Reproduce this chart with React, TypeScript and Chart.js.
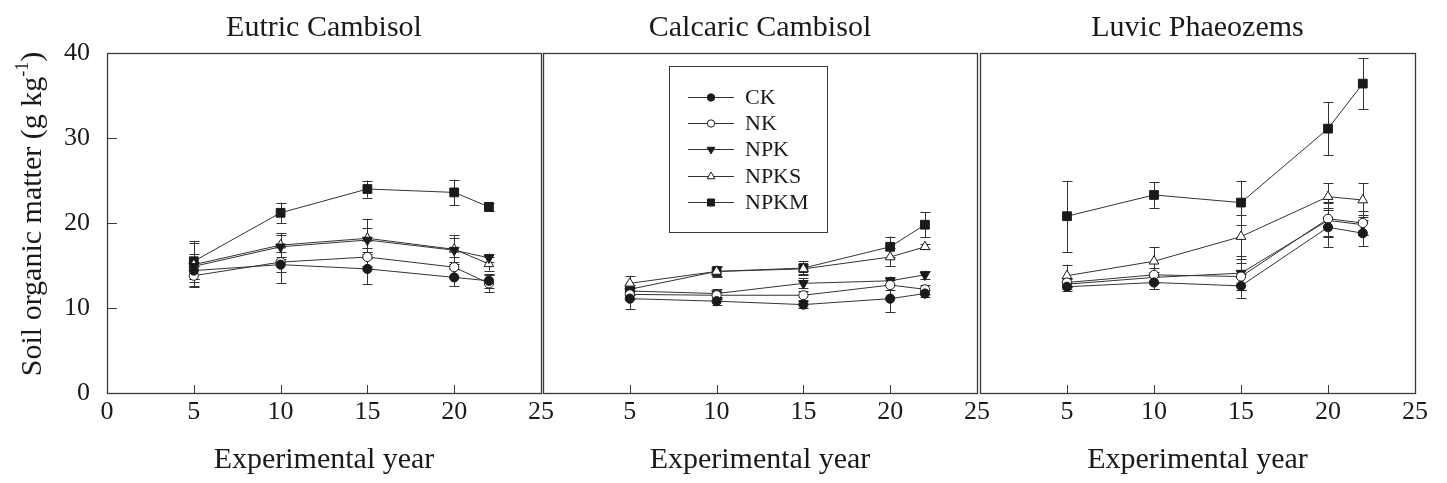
import React, { useEffect, useRef } from 'react';
import { Chart, registerables } from 'chart.js';

Chart.register(...registerables);

// ---------------- data ----------------
const YEARS = [5, 10, 15, 20, 22];
const SERIES = ['CK', 'NK', 'NPK', 'NPKS', 'NPKM'];
const PANEL_TITLES = ['Eutric Cambisol', 'Calcaric Cambisol', 'Luvic Phaeozems'];
const X_TICKS = [0, 5, 10, 15, 20, 25];
const Y_TICKS = [0, 10, 20, 30, 40];
const X_TITLE = 'Experimental year';
const Y_TITLE = 'Soil organic matter (g kg';
const Y_TITLE_SUP = '-1';

// rows follow SERIES order: CK, NK, NPK, NPKS, NPKM
const EUTRIC_MEAN = [
  [14.4, 15.1, 14.6, 13.6, 13.2],
  [13.8, 15.4, 16.0, 14.8, 12.9],
  [14.9, 17.2, 18.0, 16.8, 15.9],
  [15.1, 17.4, 18.2, 16.9, 15.2],
  [15.5, 21.2, 24.0, 23.6, 21.9],
];
const EUTRIC_ERR = [
  [1.0, 2.2, 1.8, 1.0, 0.8],
  [1.2, 1.2, 1.0, 1.2, 1.0],
  [1.5, 1.4, 1.4, 1.4, 0.5],
  [2.6, 1.4, 2.3, 1.7, 0.8],
  [2.4, 1.2, 1.0, 1.5, 0.5],
];
const CALCARIC_MEAN = [
  [11.1, 10.8, 10.4, 11.1, 11.7],
  [11.6, 11.5, 11.5, 12.7, 12.2],
  [12.0, 11.7, 12.9, 13.2, 13.9],
  [12.9, 14.3, 14.6, 16.0, 17.2],
  [12.2, 14.3, 14.7, 17.2, 19.8],
];
const CALCARIC_ERR = [
  [1.2, 0.5, 0.4, 1.6, 0.4],
  [0.5, 0.4, 0.5, 0.6, 0.5],
  [0.5, 0.5, 0.6, 0.5, 0.5],
  [0.9, 0.5, 0.6, 1.1, 0.3],
  [0.5, 0.7, 0.8, 1.2, 1.5],
];
const LUVIC_MEAN = [
  [12.5, 13.0, 12.6, 19.5, 18.8],
  [13.0, 13.9, 13.7, 20.5, 20.0],
  [12.8, 13.6, 14.1, 20.3, 19.8],
  [13.8, 15.5, 18.4, 23.1, 22.7],
  [20.8, 23.3, 22.4, 31.1, 36.4],
];
const LUVIC_ERR = [
  [0.5, 0.8, 1.4, 2.3, 1.5],
  [0.5, 0.8, 1.6, 2.0, 1.4],
  [0.6, 0.6, 2.0, 2.0, 1.2],
  [1.3, 1.7, 2.6, 1.6, 2.0],
  [4.2, 1.5, 2.6, 3.1, 3.0],
];

const PANEL_MEANS = [EUTRIC_MEAN, CALCARIC_MEAN, LUVIC_MEAN];
const PANEL_ERRS = [EUTRIC_ERR, CALCARIC_ERR, LUVIC_ERR];

// ---------------- styles ----------------
const W = 1447;
const H = 483;
const FONT = '"Liberation Serif", "Times New Roman", Times, serif';
const INK = '#1a1a1a';
const LINE = '#333333';
const PANEL_LEFT = [107, 543, 980];
const PANEL_RIGHT = [541, 977, 1415];
const PLOT_TOP = 53;
const X_AXIS_H = 90;
const Y_AXIS_W = 107;

const MARKERS = [
  { style: 'circle', fill: INK, rot: 0, r: 4.6 },
  { style: 'circle', fill: '#ffffff', rot: 0, r: 4.6 },
  { style: 'triangle', fill: INK, rot: 180, r: 5.6 },
  { style: 'triangle', fill: '#ffffff', rot: 0, r: 5.6 },
  { style: 'rect', fill: INK, rot: 0, r: 6.2 },
];

function drawMarker(ctx: CanvasRenderingContext2D, m: any, x: number, y: number, r: number) {
  ctx.save();
  ctx.fillStyle = m.fill;
  ctx.strokeStyle = INK;
  ctx.lineWidth = 1;
  ctx.beginPath();
  if (m.style === 'circle') {
    ctx.arc(x, y, r, 0, Math.PI * 2);
  } else if (m.style === 'rect') {
    const s = r * Math.SQRT1_2;
    ctx.rect(x - s, y - s, 2 * s, 2 * s);
  } else {
    const dir = m.rot === 180 ? -1 : 1;
    const h = r * 1.5;
    const hw = r * 0.866;
    ctx.moveTo(x, y - dir * r);
    ctx.lineTo(x - hw, y - dir * r + dir * h);
    ctx.lineTo(x + hw, y - dir * r + dir * h);
    ctx.closePath();
  }
  ctx.fill();
  ctx.stroke();
  ctx.restore();
}

function makeConfig(p: number): any {
  const means = PANEL_MEANS[p];
  const errs = PANEL_ERRS[p];
  const datasets = SERIES.map((name, s) => ({
    label: name,
    data: YEARS.map((yr, k) => ({ x: yr, y: means[s][k] })),
    borderColor: LINE,
    borderWidth: 1,
    pointStyle: MARKERS[s].style,
    pointRotation: MARKERS[s].rot,
    pointRadius: MARKERS[s].r,
    pointBackgroundColor: MARKERS[s].fill,
    pointBorderColor: INK,
    pointBorderWidth: 1,
    fill: false,
    tension: 0,
  }));

  const errorBars = {
    id: 'errorBars' + p,
    beforeDatasetsDraw(chart: any) {
      const ctx = chart.ctx;
      const xs = chart.scales.x;
      const ys = chart.scales.y;
      ctx.save();
      ctx.strokeStyle = LINE;
      ctx.lineWidth = 1;
      SERIES.forEach((_, s) => {
        YEARS.forEach((yr, k) => {
          const x = Math.round(xs.getPixelForValue(yr)) + 0.5;
          const yt = ys.getPixelForValue(means[s][k] + errs[s][k]);
          const yb = ys.getPixelForValue(means[s][k] - errs[s][k]);
          ctx.beginPath();
          ctx.moveTo(x, yt);
          ctx.lineTo(x, yb);
          ctx.moveTo(x - 5, Math.round(yt) + 0.5);
          ctx.lineTo(x + 5, Math.round(yt) + 0.5);
          ctx.moveTo(x - 5, Math.round(yb) + 0.5);
          ctx.lineTo(x + 5, Math.round(yb) + 0.5);
          ctx.stroke();
        });
      });
      ctx.restore();
    },
  };

  const frame = {
    id: 'frame' + p,
    afterDraw(chart: any) {
      const ctx = chart.ctx;
      const a = chart.chartArea;
      const xs = chart.scales.x;
      const ys = chart.scales.y;
      ctx.save();
      ctx.strokeStyle = '#3a3a3a';
      ctx.lineWidth = 1.3;
      ctx.strokeRect(Math.round(a.left) + 0.5, Math.round(a.top) + 0.5, Math.round(a.right - a.left), Math.round(a.bottom - a.top));
      ctx.lineWidth = 1;
      // inner x ticks
      X_TICKS.forEach((v) => {
        if (v === 0 || v === 25) return;
        const x = Math.round(xs.getPixelForValue(v)) + 0.5;
        ctx.beginPath();
        ctx.moveTo(x, a.bottom);
        ctx.lineTo(x, a.bottom - 8);
        ctx.stroke();
      });
      if (p === 0) {
        Y_TICKS.forEach((v) => {
          if (v === 0 || v === 40) return;
          const y = Math.round(ys.getPixelForValue(v)) + 0.5;
          ctx.beginPath();
          ctx.moveTo(a.left, y);
          ctx.lineTo(a.left + 10, y);
          ctx.stroke();
        });
      }
      // panel title
      ctx.fillStyle = INK;
      ctx.font = `30px ${FONT}`;
      ctx.textAlign = 'center';
      ctx.textBaseline = 'middle';
      ctx.fillText(PANEL_TITLES[p], (a.left + a.right) / 2, 28);

      if (p === 0) {
        // y axis title with superscript
        ctx.save();
        ctx.translate(33, (a.top + a.bottom) / 2 - 9);
        ctx.rotate(-Math.PI / 2);
        ctx.font = `30px ${FONT}`;
        const w1 = ctx.measureText(Y_TITLE).width;
        ctx.font = `18px ${FONT}`;
        const w2 = ctx.measureText(Y_TITLE_SUP).width;
        ctx.font = `30px ${FONT}`;
        const w3 = ctx.measureText(')').width;
        const total = w1 + w2 + w3;
        const x0 = -total / 2;
        ctx.textAlign = 'left';
        ctx.textBaseline = 'middle';
        ctx.fillText(Y_TITLE, x0, 0);
        ctx.font = `18px ${FONT}`;
        ctx.fillText(Y_TITLE_SUP, x0 + w1, -10);
        ctx.font = `30px ${FONT}`;
        ctx.fillText(')', x0 + w1 + w2, 0);
        ctx.restore();
      }

      if (p === 1) {
        // legend box
        const bx = 669, by = 66, bw = 158, bh = 166;
        ctx.lineWidth = 1;
        ctx.strokeStyle = '#3a3a3a';
        ctx.strokeRect(bx + 0.5, by + 0.5, bw, bh);
        const rows = [97, 123, 149, 176, 202];
        SERIES.forEach((name, s) => {
          const y = rows[s] + 0.5;
          ctx.strokeStyle = LINE;
          ctx.beginPath();
          ctx.moveTo(688, y);
          ctx.lineTo(734, y);
          ctx.stroke();
          drawMarker(ctx, MARKERS[s], 711, y, MARKERS[s].r * 0.8);
          ctx.fillStyle = INK;
          ctx.font = `22px ${FONT}`;
          ctx.textAlign = 'left';
          ctx.textBaseline = 'middle';
          ctx.fillText(name, 745, rows[s] + 1);
        });
      }
      ctx.restore();
    },
  };

  return {
    type: 'line',
    data: { datasets },
    plugins: [errorBars, frame],
    options: {
      animation: false,
      responsive: false,
      maintainAspectRatio: false,
      devicePixelRatio: 1,
      layout: {
        padding: {
          left: p === 0 ? 0 : PANEL_LEFT[p],
          right: W - PANEL_RIGHT[p],
          top: PLOT_TOP,
          bottom: 0,
        },
      },
      plugins: {
        legend: { display: false },
        tooltip: { enabled: false },
        title: { display: false },
      },
      events: [],
      scales: {
        x: {
          type: 'linear',
          min: 0,
          max: 25,
          afterBuildTicks: (sc: any) => {
            sc.ticks = X_TICKS.map((v) => ({ value: v }));
          },
          afterFit: (sc: any) => {
            sc.height = X_AXIS_H;
          },
          ticks: {
            autoSkip: false,
            maxRotation: 0,
            padding: 4,
            color: INK,
            font: { family: FONT, size: 26 },
            callback: (v: number) => (p > 0 && v === 0 ? '' : String(v)),
          },
          grid: { display: false, drawTicks: false },
          border: { display: false },
          title: {
            display: true,
            text: X_TITLE,
            color: INK,
            font: { family: FONT, size: 30 },
            padding: { top: 0, bottom: 5 },
          },
        },
        y: {
          type: 'linear',
          min: 0,
          max: 40,
          display: p === 0,
          afterBuildTicks: (sc: any) => {
            sc.ticks = Y_TICKS.map((v) => ({ value: v }));
          },
          afterFit: (sc: any) => {
            sc.width = p === 0 ? Y_AXIS_W : 0;
          },
          ticks: {
            padding: 17,
            color: INK,
            font: { family: FONT, size: 26 },
          },
          grid: { display: false, drawTicks: false },
          border: { display: false },
          title: { display: false },
        },
      },
    },
  };
}

function Panel({ index }: { index: number }) {
  const ref = useRef<HTMLCanvasElement | null>(null);
  useEffect(() => {
    if (!ref.current) return;
    const chart = new Chart(ref.current, makeConfig(index));
    return () => chart.destroy();
  }, [index]);
  return (
    <canvas
      ref={ref}
      width={W}
      height={H}
      style={{ position: 'absolute', left: 0, top: 0, width: W, height: H }}
    />
  );
}

export default function App() {
  return (
    <div
      style={{
        position: 'absolute',
        left: 0,
        top: 0,
        width: W,
        height: H,
        background: '#ffffff',
        overflow: 'hidden',
      }}
    >
      <Panel index={0} />
      <Panel index={1} />
      <Panel index={2} />
    </div>
  );
}
